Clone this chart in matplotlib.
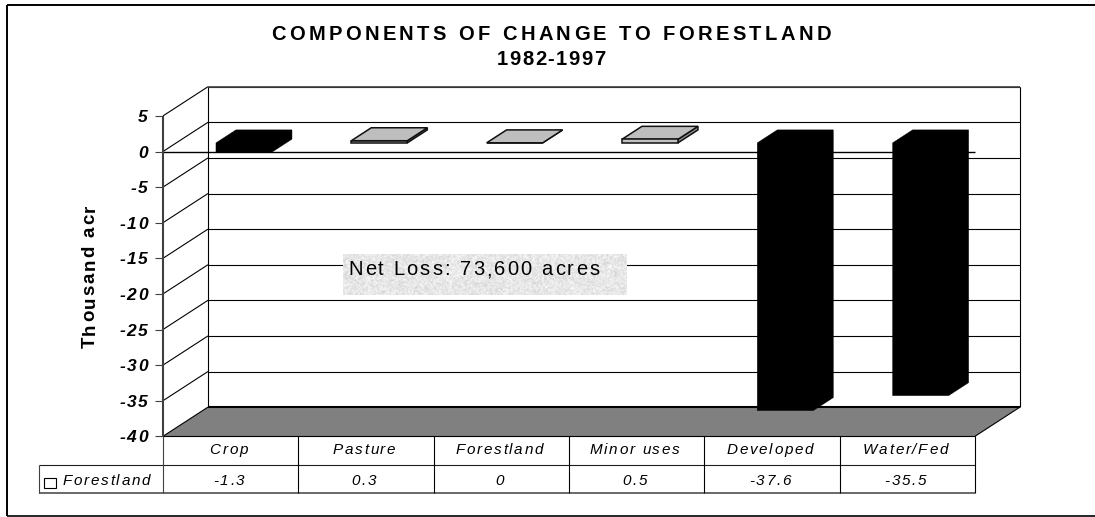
import numpy as np
import matplotlib
matplotlib.use("Agg")
import matplotlib.pyplot as plt
from matplotlib.font_manager import findfont, get_font
from matplotlib.ft2font import LoadFlags
from matplotlib.patches import Polygon
from matplotlib.text import Text
from matplotlib.transforms import Affine2D, Bbox, IdentityTransform

categories = ["Crop", "Pasture", "Forestland", "Minor uses", "Developed", "Water/Fed"]
values = [-1.3, 0.3, 0, 0.5, -37.6, -35.5]
value_labels = ["-1.3", "0.3", "0", "0.5", "-37.6", "-35.5"]
y_ticks = [5, 0, -5, -10, -15, -20, -25, -30, -35, -40]
series_name = "Forestland"
title_lines = ["COMPONENTS OF CHANGE TO FORESTLAND", "1982-1997"]
y_label = "Thousand acr"
note = "Net Loss: 73,600 acres"

W, H = 1095, 517
X0, CAT_W = 163.0, 135.33
Y0, UNIT = 151.5, 7.12
DX, DY = 45.0 / CAT_W, 29.2 / UNIT     # oblique depth shift, in data units
D1, D2 = 0.296, 0.74                    # bar's depth range
BAR_W = 0.414
ROW1, ROW2 = -44.0, -48.0
FONT = "Liberation Sans"
LW = 0.8


class TrackedText(Text):
    """One text string, drawn with extra space between its letters."""

    def __init__(self, x, y, s, tracking=0.0, **kw):
        super().__init__(x, y, s, **kw)
        self._tracking = tracking

    def _advances(self):
        dpi = self.get_figure().dpi
        font = get_font(findfont(self.get_fontproperties()))
        font.set_size(self.get_fontsize(), dpi)
        return [font.load_char(ord(c), flags=LoadFlags.NO_HINTING).linearHoriAdvance / 65536
                for c in self.get_text()]

    def _start(self):
        adv = self._advances()
        total = sum(adv) + self._tracking * (len(adv) - 1)
        px, py = self.get_transform().transform(self.get_position())
        shift = {"left": 0.0, "center": -total / 2, "right": -total}[self.get_ha()]
        vert = self.get_rotation() == 90
        ux, uy = (0.0, 1.0) if vert else (1.0, 0.0)
        return adv, total, px + ux * shift, py + uy * shift, ux, uy

    def draw(self, renderer):
        if not self.get_visible():
            return
        adv, _, px, py, ux, uy = self._start()
        for ch, a in zip(self.get_text(), adv):
            if ch != " ":
                t = Text(px, py, ch, fontproperties=self.get_fontproperties(),
                         color=self.get_color(), rotation=self.get_rotation(),
                         rotation_mode="anchor", ha="left", va="baseline",
                         transform=IdentityTransform())
                t.set_figure(self.get_figure())
                t.draw(renderer)
            px += ux * (a + self._tracking)
            py += uy * (a + self._tracking)

    def get_window_extent(self, renderer=None, dpi=None):
        _, total, px, py, ux, uy = self._start()
        size = self.get_fontsize() * self.get_figure().dpi / 72
        if uy:
            return Bbox([[px - size * 0.75, py], [px + size * 0.2, py + total]])
        return Bbox([[px, py - size * 0.2], [px + total, py + size * 0.75]])


fig = plt.figure(figsize=(W / 100, H / 100), dpi=100, facecolor="white")
ax = fig.add_axes([0, 0, 1, 1])
ax.set_axis_off()
ax.set_xlim(-X0 / CAT_W, (W - X0) / CAT_W)
ax.set_ylim(Y0 / UNIT - H / UNIT, Y0 / UNIT)

PX = Affine2D().scale(1 / W, -1 / H).translate(0, 1) + fig.transFigure


def line(xs, ys, color="black", lw=LW, z=2, **kw):
    ax.plot(xs, ys, color=color, lw=lw, zorder=z, solid_capstyle="butt",
            clip_on=False, scalex=False, scaley=False, **kw)


def pxline(xs, ys, color="black", lw=LW, z=2):
    line(xs, ys, color=color, lw=lw, z=z, transform=PX)


def face(pts, fc, z, ec="black", lw=LW):
    ax.add_patch(Polygon(pts, closed=True, fc=fc, ec=ec, lw=lw, zorder=z, joinstyle="miter"))


def label(x, y, s, size, tracking, offset=(0, 0), px=False, **kw):
    tr = PX if px else ax.transData + Affine2D().translate(*offset)
    ax.add_artist(TrackedText(x, y, s, tracking=tracking, family=FONT, fontsize=size,
                              color="black", va="baseline", transform=tr, zorder=8, **kw))


n = len(categories)
top, floor = y_ticks[0], y_ticks[-1]

# outer frame (open on the right, where the picture was cut)
pxline([7, W], [5, 5], lw=1.4)
pxline([7, 7], [5, 515.6], lw=1.4)
pxline([7, W], [515.6, 515.6], lw=1.2)

# back wall and side wall
for t in y_ticks[:-1]:
    line([DX, n + DX], [t + DY, t + DY], z=1)
    line([0, DX], [t, t + DY], z=1)
line([DX, DX], [floor + DY, top + DY], z=1)
line([n + DX, n + DX], [floor + DY, top + DY], z=1)
line([DX, n + DX], [top + DY, top + DY], color="#404040", lw=1.2, z=1)

# floor
face([(0, floor), (n, floor), (n + DX, floor + DY), (DX, floor + DY)], "#808080", 2, ec="none", lw=0)
line([DX, n + DX], [floor + DY, floor + DY], lw=1.5, z=3)
line([n, n + DX], [floor, floor + DY], z=3)
line([0, DX], [floor, floor + DY], z=3)

# zero plane line
line([0, n], [0, 0], lw=1.0, z=3)

# bars
for i, v in enumerate(values):
    xa, xb = i + 0.5 - BAR_W / 2, i + 0.5 + BAR_W / 2
    lo, hi = min(v, 0), max(v, 0)
    f1x, f2x = xa + D1 * DX, xb + D1 * DX
    b1x, b2x = xa + D2 * DX, xb + D2 * DX
    d1y, d2y = D1 * DY, D2 * DY
    if v < 0:
        face([(f1x, lo + d1y), (f2x, lo + d1y), (b2x, lo + d2y), (b2x, hi + d2y),
              (b1x, hi + d2y), (f1x, hi + d1y)], "black", 5, ec="black", lw=0.3)
    else:
        style = {"ec": "#101010", "lw": 1.1}
        face([(f2x, lo + d1y), (b2x, lo + d2y), (b2x, hi + d2y), (f2x, hi + d1y)], "#909090", 4, **style)
        face([(f1x, hi + d1y), (f2x, hi + d1y), (b2x, hi + d2y), (b1x, hi + d2y)], "#BEBEBE", 4, **style)
        face([(f1x, lo + d1y), (f2x, lo + d1y), (f2x, hi + d1y), (f1x, hi + d1y)], "#C0C0C0", 5, **style)

# front axis, ticks, tick labels
line([0, 0], [floor, top], color="#404040", lw=1.5, z=4)
tick = 8 / CAT_W
for t in y_ticks:
    line([-tick, 0], [t, t], color="#404040", z=4)
    label(0, t, str(t), 12.5, 1.5, offset=(-15.5, -6), ha="right", fontweight="bold", fontstyle="italic")

# data table
line([0, n], [floor, floor], z=4)
line([-124 / CAT_W, n], [ROW1, ROW1], color="#202020", z=4)
line([-124 / CAT_W, n], [ROW2, ROW2], color="#404040", lw=1.1, z=4)
line([-124 / CAT_W, -124 / CAT_W], [ROW1, ROW2], color="#404040", z=4)
line([0, 0], [floor, ROW2], color="#404040", z=4)
for i in range(1, n + 1):
    line([i, i], [floor, ROW2], z=4)
for i, (c, s) in enumerate(zip(categories, value_labels)):
    label(i + 0.5, (floor + ROW1) / 2, c, 11, 1.7, offset=(-2, -3.5), ha="center", fontstyle="italic")
    label(i + 0.5, (ROW1 + ROW2) / 2, s, 11, 1.7, offset=(-2, -6), ha="center", fontstyle="italic")
face([(44, 478), (56, 478), (56, 488), (44, 488)], "white", 5)
ax.patches[-1].set_transform(PX)
label(63, 485, series_name, 11, 1.65, px=True, ha="left", fontstyle="italic")

# textured note box
bx0, bx1, by0, by1 = 343, 627, 254, 295
yy, xx = np.mgrid[0:by1 - by0, 0:bx1 - bx0]
grain = np.modf(np.abs(np.sin(xx * 12.9898 + yy * 78.233) * 43758.5453))[0]
grain = (grain + np.roll(grain, 1, 0) + np.roll(grain, 1, 1) + np.roll(np.roll(grain, 1, 0), 1, 1)) / 4
ax.imshow(0.905 + 0.09 * (grain - 0.5) * 2, cmap="gray", vmin=0, vmax=1, aspect="auto", zorder=6,
          extent=[bx0, bx1, by1, by0], transform=PX, interpolation="bilinear")
ax.set_xlim(-X0 / CAT_W, (W - X0) / CAT_W)
ax.set_ylim(Y0 / UNIT - H / UNIT, Y0 / UNIT)
label(348, 275, note, 14.5, 2.1, px=True, ha="left")

# titles
label(551, 39.5, title_lines[0], 14.5, 3.4, px=True, ha="center", fontweight="bold")
label(551, 65, title_lines[1], 14.5, 1.6, px=True, ha="center", fontweight="bold")
label(94.5, 348, y_label, 13.5, 1.85, px=True, ha="left", rotation=90, fontweight="bold")

fig.savefig("out.png", dpi=100, facecolor="white")
